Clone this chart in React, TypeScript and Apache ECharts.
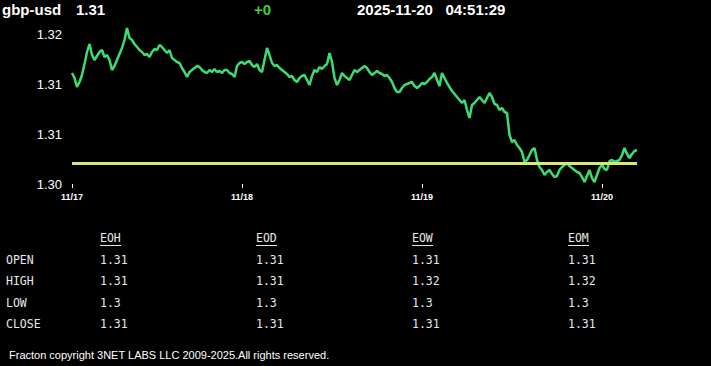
import React, { useEffect, useRef } from "react";
import * as echarts from "echarts";

const symbolName = "gbp-usd";
const lastPrice = "1.31";
const change = "+0";
const stamp = "2025-11-20   04:51:29";
const footer = "Fracton copyright 3NET LABS LLC 2009-2025.All rights reserved.";

const startTime = "2025-11-17T01:20:00";
const stepMinutes = 20;

const prices = [
  1.3161, 1.3156, 1.3147, 1.3152, 1.3159, 1.317, 1.3182, 1.319, 1.3179, 1.3174,
  1.3178, 1.3182, 1.3184, 1.3177, 1.3179, 1.3174, 1.3164, 1.3168, 1.3174, 1.318,
  1.3186, 1.3194, 1.3206, 1.3196, 1.3194, 1.319, 1.3187, 1.3184, 1.3182, 1.3179,
  1.318, 1.3177, 1.3182, 1.3185, 1.3184, 1.3189, 1.3187, 1.3184, 1.3181, 1.3184,
  1.3176, 1.3174, 1.3172, 1.3171, 1.3166, 1.3162, 1.3157, 1.3162, 1.3164, 1.3166,
  1.3168, 1.3167, 1.3164, 1.3162, 1.3161, 1.3164, 1.3162, 1.3165, 1.3162, 1.3163,
  1.3161, 1.3164, 1.3164, 1.3161, 1.316, 1.3157, 1.3168, 1.3171, 1.3172, 1.317,
  1.3172, 1.3173, 1.3169, 1.3167, 1.317, 1.3164, 1.3162, 1.3174, 1.3186, 1.3179,
  1.3171, 1.3168, 1.3169, 1.3166, 1.3164, 1.3162, 1.316, 1.3157, 1.3158, 1.3154,
  1.3152, 1.3156, 1.3158, 1.3159, 1.3154, 1.3149, 1.3158, 1.3164, 1.3162, 1.3167,
  1.3165, 1.3168, 1.317, 1.3181, 1.3172, 1.3156, 1.3149, 1.3154, 1.3161, 1.3158,
  1.3156, 1.3154, 1.3159, 1.3164, 1.3162, 1.3164, 1.3166, 1.3168, 1.3166, 1.3162,
  1.3159, 1.3161, 1.3163, 1.3161, 1.316, 1.3158, 1.3159, 1.3156, 1.3152, 1.3146,
  1.3142, 1.3142, 1.3146, 1.3149, 1.315, 1.3151, 1.3152, 1.3148, 1.3146, 1.3148,
  1.3151, 1.315, 1.3152, 1.3155, 1.3157, 1.3161, 1.3154, 1.3148, 1.3161, 1.3156,
  1.3151, 1.3147, 1.3143, 1.314, 1.3137, 1.3134, 1.3131, 1.3134, 1.3124, 1.3116,
  1.3129, 1.3131, 1.3134, 1.3137, 1.3134, 1.3131, 1.3136, 1.3141, 1.3137, 1.313,
  1.3129, 1.3124, 1.3126, 1.3122, 1.3121, 1.3099, 1.3092, 1.3094, 1.3089, 1.3086,
  1.3082, 1.3072, 1.3074, 1.3079, 1.3084, 1.3086, 1.3074, 1.3067, 1.3064, 1.3059,
  1.3062, 1.3064, 1.306, 1.3057, 1.3058, 1.3064, 1.3067, 1.3069, 1.3071, 1.3068,
  1.3066, 1.3064, 1.3062, 1.3061, 1.3057, 1.3052, 1.3058, 1.3064, 1.3056, 1.3052,
  1.3059, 1.3066, 1.3069, 1.3065, 1.3064, 1.3073, 1.3074, 1.3072, 1.3073, 1.3074,
  1.3079, 1.3086, 1.308, 1.3076, 1.308, 1.3083, 1.3084,
];

const referenceLevel = 1.3071;

const rowLabels = ["OPEN", "HIGH", "LOW", "CLOSE"];
const colHeaders = ["EOH", "EOD", "EOW", "EOM"];
const eohValues = [1.31, 1.31, 1.3, 1.31];
const eodValues = [1.31, 1.31, 1.3, 1.31];
const eowValues = [1.31, 1.32, 1.3, 1.31];
const eomValues = [1.31, 1.32, 1.3, 1.31];

function pad(n: number) {
  return n < 10 ? "0" + n : "" + n;
}

function buildTimes(): string[] {
  const out: string[] = [];
  const t0 = new Date(startTime).getTime();
  for (let i = 0; i < prices.length; i++) {
    const d = new Date(t0 + i * stepMinutes * 60000);
    out.push(
      pad(d.getMonth() + 1) + "/" + pad(d.getDate()) + " " + pad(d.getHours()) + ":" + pad(d.getMinutes())
    );
  }
  return out;
}

export default function App() {
  const ref = useRef<HTMLDivElement>(null);

  useEffect(() => {
    document.body.style.margin = "0";
    document.body.style.background = "#000";
    if (!ref.current) return;
    const chart = echarts.init(ref.current, undefined, { renderer: "svg" });
    const times = buildTimes();
    const showIdx = (i: number) => i === 0 || times[i].endsWith("00:00");

    const colX = [100, 256, 412, 568];
    const rowY = [260, 281, 303, 324];
    const columns = [eohValues, eodValues, eowValues, eomValues];
    const tableFont = '11.5px "DejaVu Sans Mono", monospace';
    const headFont = 'bold 15px "Liberation Sans", Arial, sans-serif';
    const graphics: any[] = [
      { type: "text", left: 2, top: 2, style: { text: symbolName, fill: "#fff", font: headFont } },
      { type: "text", left: 76, top: 2, style: { text: lastPrice, fill: "#fff", font: headFont } },
      { type: "text", left: 254, top: 2, style: { text: change, fill: "#3fcf3f", font: headFont } },
      { type: "text", left: 357, top: 2, style: { text: stamp, fill: "#fff", font: headFont } },
      {
        type: "text",
        left: 9,
        top: 349,
        style: { text: footer, fill: "#fff", font: '11px "Liberation Sans", Arial, sans-serif' },
      },
    ];
    colHeaders.forEach((h, c) => {
      graphics.push({
        type: "text",
        x: colX[c],
        y: 238,
        style: { text: h, fill: "#e8e8e8", font: tableFont, verticalAlign: "middle" },
      });
      graphics.push({
        type: "line",
        shape: { x1: colX[c], y1: 245.5, x2: colX[c] + 21, y2: 245.5 },
        style: { stroke: "#e8e8e8", lineWidth: 1 },
      });
    });
    rowLabels.forEach((r, ri) => {
      graphics.push({
        type: "text",
        x: 6,
        y: rowY[ri],
        style: { text: r, fill: "#e8e8e8", font: tableFont, verticalAlign: "middle" },
      });
      columns.forEach((col, c) => {
        graphics.push({
          type: "text",
          x: colX[c],
          y: rowY[ri],
          style: { text: String(col[ri]), fill: "#e8e8e8", font: tableFont, verticalAlign: "middle" },
        });
      });
    });

    chart.setOption({
      animation: false,
      backgroundColor: "#000",
      grid: { left: 72, right: 74, top: 34, height: 150 },
      xAxis: {
        type: "category",
        data: times,
        boundaryGap: false,
        axisLine: { show: false },
        axisTick: {
          show: true,
          interval: (i: number) => showIdx(i),
          length: 4,
          lineStyle: { color: "#fff", width: 1 },
        },
        axisLabel: {
          interval: (i: number) => showIdx(i),
          formatter: (v: string) => v.slice(0, 5),
          color: "#fff",
          fontSize: 9,
          fontWeight: "bold",
          fontFamily: '"Liberation Sans", Arial, sans-serif',
          margin: 8,
        },
        splitLine: { show: false },
      },
      yAxis: {
        type: "value",
        min: 1.305,
        max: 1.32,
        interval: 0.005,
        axisLine: { show: false },
        axisTick: { show: false },
        splitLine: { show: false },
        axisLabel: {
          color: "#fff",
          fontSize: 13,
          fontFamily: '"Liberation Sans", Arial, sans-serif',
          margin: 10,
          formatter: (v: number) => (Math.floor(v * 100 + 1e-6) / 100).toFixed(2),
        },
      },
      series: [
        {
          type: "line",
          data: prices,
          showSymbol: false,
          symbol: "none",
          clip: false,
          lineStyle: { color: "#3ddc72", width: 2.5 },
          markLine: {
            silent: true,
            symbol: "none",
            precision: 4,
            label: { show: false },
            lineStyle: { color: "#d6e87c", width: 3, type: "solid" },
            data: [{ yAxis: referenceLevel }],
          },
        },
      ],
      graphic: graphics,
    });
    return () => chart.dispose();
  }, []);

  return (
    <div
      ref={ref}
      style={{ position: "fixed", left: 0, top: 0, width: 711, height: 366, background: "#000" }}
    />
  );
}
